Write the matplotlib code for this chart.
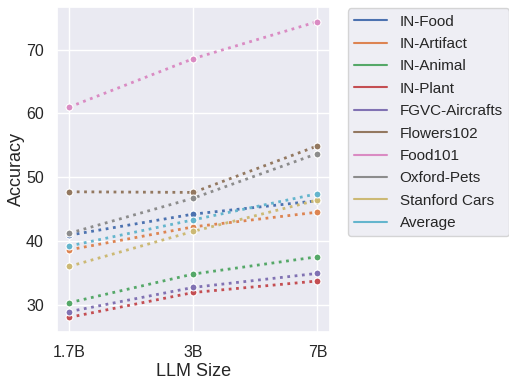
import matplotlib
matplotlib.use("Agg")
import matplotlib.pyplot as plt
import seaborn as sns
from matplotlib.lines import Line2D

sns.set_theme()
plt.rcParams["font.family"] = ["Liberation Sans", "DejaVu Sans"]

sizes = ["1.7B", "3B", "7B"]
names = ["IN-Food", "IN-Artifact", "IN-Animal", "IN-Plant", "FGVC-Aircrafts",
         "Flowers102", "Food101", "Oxford-Pets", "Stanford Cars", "Average"]

in_food = [40.9, 44.2, 46.3]
in_artifact = [38.6, 42.2, 44.5]
in_animal = [30.3, 34.8, 37.5]
in_plant = [28.0, 31.9, 33.7]
fgvc_aircrafts = [28.9, 32.7, 34.9]
flowers102 = [47.7, 47.6, 54.9]
food101 = [61.0, 68.6, 74.4]
oxford_pets = [41.2, 46.7, 53.7]
stanford_cars = [36.0, 41.5, 46.4]
average = [39.2, 43.3, 47.4]

series = [in_food, in_artifact, in_animal, in_plant, fgvc_aircrafts,
          flowers102, food101, oxford_pets, stanford_cars, average]

colors = sns.color_palette()

fig, ax = plt.subplots(figsize=(5.09, 3.8), dpi=100)
x = list(range(len(sizes)))
handles = []
for name, vals, c in zip(names, series, colors):
    ax.plot(x, vals, linestyle=":", linewidth=2, marker="o", markersize=5,
            markeredgecolor="white", markeredgewidth=0.8, color=c)
    handles.append(Line2D([0], [0], color=c, linewidth=1.5, label=name))

ax.set_xticks(x)
ax.set_xticklabels(sizes, fontsize=11.5)
ax.tick_params(axis="y", labelsize=11.5)
ax.set_xlabel("LLM Size", fontsize=13, labelpad=2)
ax.set_ylabel("Accuracy", fontsize=13, labelpad=1)
ax.legend(handles=handles, loc="upper left", bbox_to_anchor=(1.065, 0.995),
          borderaxespad=0, fontsize=11, handlelength=2.2, labelspacing=0.55)

fig.subplots_adjust(left=0.112, right=0.648, bottom=0.126, top=0.982)
fig.savefig("out.png", dpi=100)
